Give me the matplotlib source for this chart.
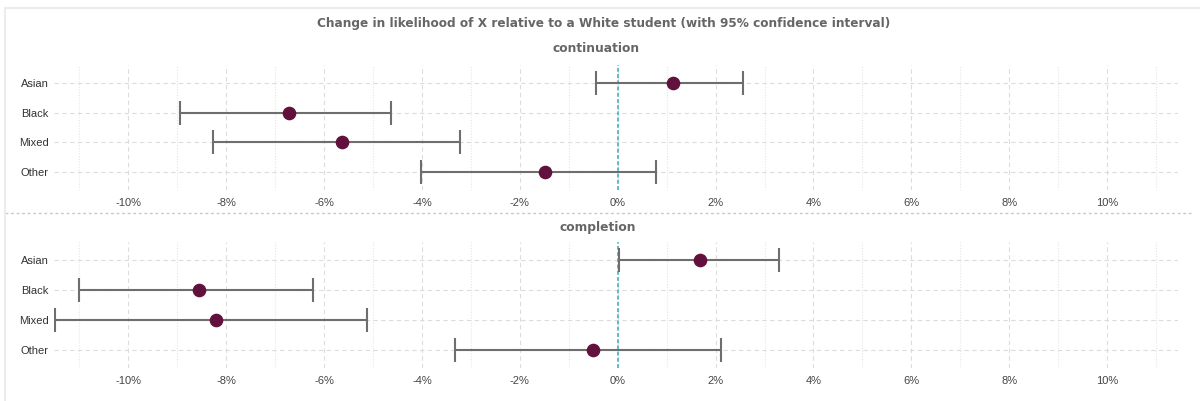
import matplotlib
matplotlib.use("Agg")
from matplotlib import pyplot as plt
from matplotlib.lines import Line2D
import numpy as np

# estimates in percentage points, relative to White students
groups = ["Asian", "Black", "Mixed", "Other"]

cont_est = [1.13, -6.71, -5.63, -1.48]
cont_low = [-0.44, -8.95, -8.27, -4.01]
cont_high = [2.56, -4.64, -3.22, 0.78]

comp_est = [1.69, -8.55, -8.20, -0.50]
comp_low = [0.02, -11.00, -11.49, -3.33]
comp_high = [3.29, -6.22, -5.13, 2.12]

tick_vals = [-10, -8, -6, -4, -2, 0, 2, 4, 6, 8, 10]

dot_color = "#62113d"
bar_color = "#6e6e6e"
zero_color = "#5fbdc2"
grid_color = "#dcdcdc"

fig = plt.figure(figsize=(12, 4.01), dpi=100)
W, H = 1200, 401


def px_box(x0, y0, x1, y1):
    return [x0 / W, 1 - y1 / H, (x1 - x0) / W, (y1 - y0) / H]


def panel(ax, est, low, high):
    y = np.arange(len(groups))
    est = np.array(est)
    xerr = [est - np.array(low), np.array(high) - est]

    ax.set_xlim(-11.52, 11.45)
    ax.set_ylim(len(groups) - 0.4, -0.6)

    # grid: dashed on even percents, dotted on odd ones
    for v in range(-11, 12):
        if v % 2 == 0:
            ax.axvline(v, color=grid_color, lw=0.8, ls=(0, (4, 3)), zorder=0)
        else:
            ax.axvline(v, color="#e6e6e6", lw=0.8, ls=(0, (1, 1.5)), zorder=0)
    for yy in y:
        ax.axhline(yy, color=grid_color, lw=0.8, ls=(0, (4, 3)), zorder=0)

    ax.axvline(0, color=zero_color, lw=1.4, ls=(0, (2, 1.2)), zorder=1)

    ax.errorbar(est, y, xerr=xerr, fmt="none", ecolor=bar_color,
                elinewidth=1.5, capsize=8.6, capthick=1.5, zorder=2)
    ax.plot(est, y, "o", color=dot_color, ms=8.8, zorder=3)

    ax.set_yticks(y)
    ax.set_yticklabels(groups, fontsize=8, color="#333333",
                       family="Liberation Sans")
    ax.set_xticks(tick_vals)
    ax.set_xticklabels(["{}%".format(v) for v in tick_vals], fontsize=8,
                       color="#444444", family="Liberation Sans")
    ax.tick_params(length=0, pad=4)
    ax.tick_params(axis="x", pad=6)
    for s in ax.spines.values():
        s.set_visible(False)


ax1 = fig.add_axes(px_box(54, 65, 1178, 190))
panel(ax1, cont_est, cont_low, cont_high)

ax2 = fig.add_axes(px_box(54, 242, 1178, 368))
panel(ax2, comp_est, comp_low, comp_high)

title_kw = dict(ha="center", va="center", color="#666666",
                fontweight="bold", family="DejaVu Sans")
fig.text(0.503, 1 - 24 / H,
         "Change in likelihood of X relative to a White student "
         "(with 95% confidence interval)", fontsize=8.7, **title_kw)
fig.text(0.497, 1 - 49 / H, "continuation", fontsize=8.8, **title_kw)
fig.text(0.498, 1 - 228 / H, "completion", fontsize=8.8, **title_kw)

# separator between the two panels
fig.add_artist(Line2D([5 / W, 1192 / W], [1 - 213 / H, 1 - 213 / H],
                      color="#c8c8c8", lw=1.0, ls=(0, (2, 2))))

# faint frame on the top and left
fig.add_artist(Line2D([5 / W, 5 / W], [0, 1 - 8 / H], color="#ececec", lw=1.5))
fig.add_artist(Line2D([5 / W, 1], [1 - 8 / H, 1 - 8 / H], color="#ececec", lw=1.5))

fig.savefig("out.png", dpi=100)
